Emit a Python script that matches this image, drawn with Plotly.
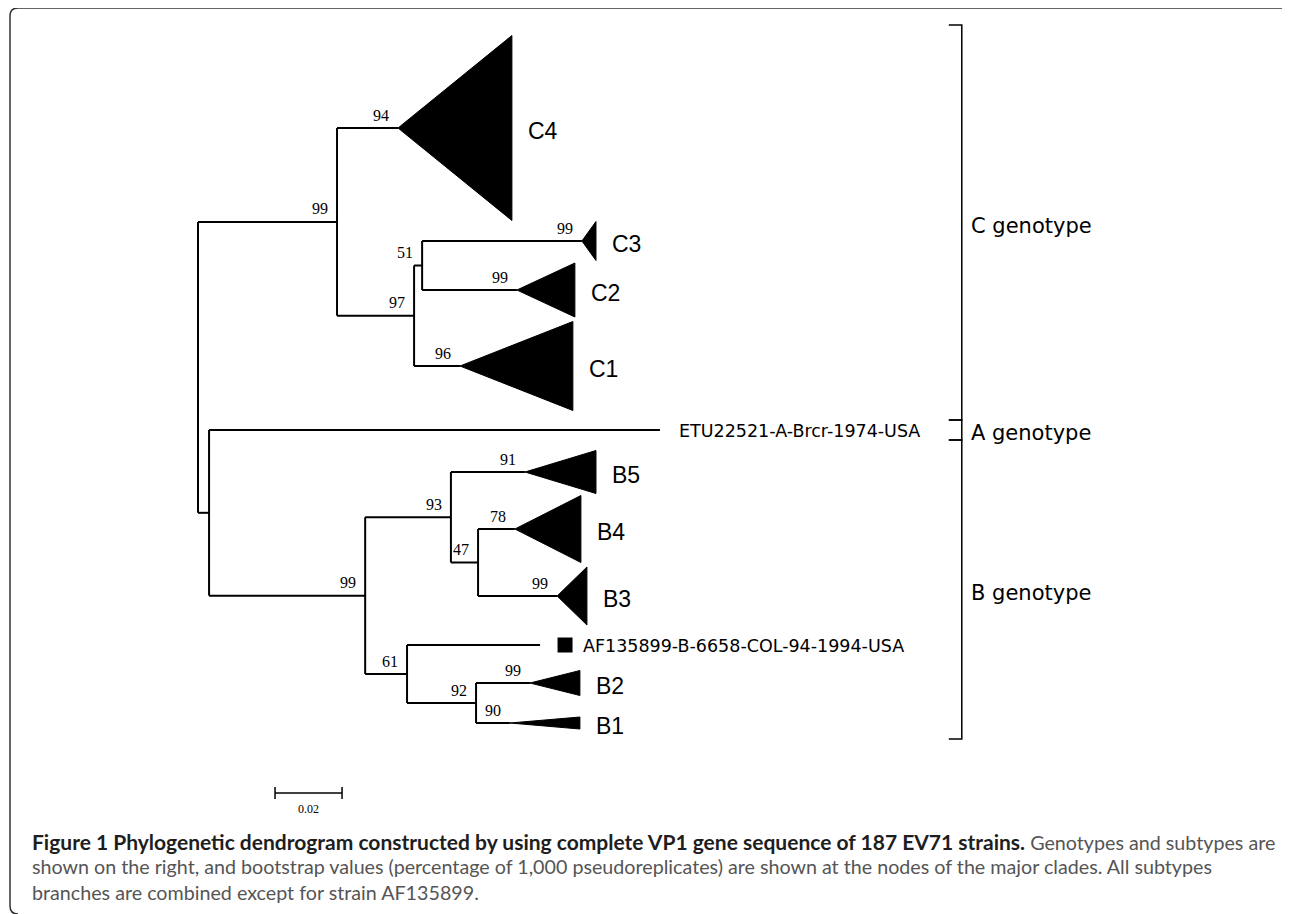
import plotly.graph_objects as go

# ---------------- DATA ----------------
# Internal nodes of the tree (distance from root in substitutions/site)
node_names = ["root", "C", "n97", "n51", "AB", "B", "n93", "n47", "n61", "n92"]
node_parent = [None, "root", "C", "n97", "root", "AB", "B", "n93", "B", "n61"]
node_dist = [0.0, 0.0415, 0.0645, 0.0669, 0.0033, 0.0499, 0.0755, 0.0836, 0.0624, 0.0830]
node_boot = [None, "99", "97", "51", None, "99", "93", "47", "61", "92"]

# Collapsed subtypes (drawn as triangles)
clade_names = ["C4", "C3", "C2", "C1", "B5", "B4", "B3", "B2", "B1"]
clade_parent = ["C", "n51", "n51", "n97", "n93", "n47", "n47", "n92", "n92"]
clade_apex = [0.0597, 0.1146, 0.0952, 0.0782, 0.0976, 0.0946, 0.1072, 0.0991, 0.0931]
clade_tip = [0.0937, 0.1188, 0.1125, 0.1119, 0.1188, 0.1143, 0.1161, 0.1140, 0.1140]
clade_y = [128, 241, 290, 366, 472, 529, 596, 683, 723]
clade_height = [185, 39, 54, 89, 43, 67, 58, 25, 12]
clade_boot = ["94", "99", "99", "96", "91", "78", "99", "99", "90"]

# Single strains
strain_names = ["ETU22521-A-Brcr-1974-USA", "AF135899-B-6658-COL-94-1994-USA"]
strain_parent = ["AB", "n61"]
strain_dist = [0.1379, 0.1021]
strain_y = [430, 645]
strain_square = [False, True]

# Genotype brackets
geno_names = ["C genotype", "A genotype", "B genotype"]
geno_top = [25, 420, 440]
geno_bottom = [420, 440, 739]
geno_x = 0.228

# Scale bar
scale_value = 0.02
scale_start = 0.023
scale_y = 793

caption_lines = [
    "<span style='font-size:21px'><b>Figure 1 Phylogenetic dendrogram constructed by using complete VP1 gene "
    "sequence of 187 EV71 strains.</b></span>"
    "<span style='color:#555555'> Genotypes and subtypes are</span>",
    "shown on the right, and bootstrap values (percentage of 1,000 pseudoreplicates) are shown at the nodes of the major clades. All subtypes",
    "branches are combined except for strain AF135899.",
]
caption_y = [841, 866, 892]

# ---------------- LAYOUT CONSTANTS ----------------
W, H = 1290, 914
OFF = 8  # page body margin of the browser
PX_PER_UNIT = 3350.0
ROOT_PX = 198
x_range = [(OFF - ROOT_PX) / PX_PER_UNIT, (OFF + W - ROOT_PX) / PX_PER_UNIT]
y_range = [OFF + H, OFF]

# ---------------- TREE GEOMETRY ----------------
dist = dict(zip(node_names, node_dist))
children = {n: [] for n in node_names}
for n, p in zip(node_names, node_parent):
    if p is not None:
        children[p].append(("node", n))
for i, p in enumerate(clade_parent):
    children[p].append(("clade", i))
for i, p in enumerate(strain_parent):
    children[p].append(("strain", i))

ypos = {}


def get_y(kind, key):
    if kind == "clade":
        return clade_y[key]
    if kind == "strain":
        return strain_y[key]
    if key in ypos:
        return ypos[key]
    ys = [get_y(k, c) for k, c in children[key]]
    ypos[key] = (min(ys) + max(ys)) / 2.0
    return ypos[key]


for n in node_names:
    get_y("node", n)

lx, ly = [], []
# vertical connectors
for n in node_names:
    ys = [get_y(k, c) for k, c in children[n]]
    lx += [dist[n], dist[n], None]
    ly += [min(ys), max(ys), None]
# horizontal branches
for n, p in zip(node_names, node_parent):
    if p is not None:
        lx += [dist[p], dist[n], None]
        ly += [ypos[n], ypos[n], None]
for i, p in enumerate(clade_parent):
    lx += [dist[p], clade_apex[i], None]
    ly += [clade_y[i], clade_y[i], None]
for i, p in enumerate(strain_parent):
    lx += [dist[p], strain_dist[i], None]
    ly += [strain_y[i], strain_y[i], None]

fig = go.Figure()
fig.add_trace(go.Scatter(x=lx, y=ly, mode="lines",
                         line=dict(color="black", width=2), hoverinfo="skip",
                         showlegend=False))

# triangles
tx, ty = [], []
for i in range(len(clade_names)):
    h = clade_height[i] / 2.0
    tx += [clade_apex[i], clade_tip[i], clade_tip[i], clade_apex[i], None]
    ty += [clade_y[i], clade_y[i] - h, clade_y[i] + h, clade_y[i], None]
fig.add_trace(go.Scatter(x=tx, y=ty, mode="lines", fill="toself",
                         fillcolor="black", line=dict(color="black", width=1),
                         hoverinfo="skip", showlegend=False))

# square marker for single strain
sq_gap = 25 / PX_PER_UNIT
sqx = [strain_dist[i] + sq_gap for i in range(len(strain_names)) if strain_square[i]]
sqy = [strain_y[i] for i in range(len(strain_names)) if strain_square[i]]
fig.add_trace(go.Scatter(x=sqx, y=sqy, mode="markers",
                         marker=dict(symbol="square", size=15, color="black"),
                         hoverinfo="skip", showlegend=False))

# genotype brackets
bx, by = [], []
tick = 13 / PX_PER_UNIT
for t, b in zip(geno_top, geno_bottom):
    bx += [geno_x - tick, geno_x, geno_x, geno_x - tick, None]
    by += [t, t, b, b, None]
fig.add_trace(go.Scatter(x=bx, y=by, mode="lines",
                         line=dict(color="black", width=1.5), hoverinfo="skip",
                         showlegend=False))

# scale bar
fig.add_trace(go.Scatter(
    x=[scale_start, scale_start + scale_value, None, scale_start, scale_start, None,
       scale_start + scale_value, scale_start + scale_value],
    y=[scale_y, scale_y, None, scale_y - 6, scale_y + 6, None, scale_y - 6, scale_y + 6],
    mode="lines", line=dict(color="black", width=1.5), hoverinfo="skip", showlegend=False))

ann = []
serif = dict(family="Liberation Serif", size=16, color="black")
# bootstrap values
for n, b in zip(node_names, node_boot):
    if b:
        ann.append(dict(x=dist[n], y=ypos[n], text=b, showarrow=False, xanchor="right",
                        yanchor="middle", xshift=-7, yshift=13, font=serif))
for i, b in enumerate(clade_boot):
    ann.append(dict(x=clade_apex[i], y=clade_y[i], text=b, showarrow=False, xanchor="right",
                    yanchor="middle", xshift=-7, yshift=13, font=serif))
# clade labels
for i, name in enumerate(clade_names):
    ann.append(dict(x=clade_tip[i], y=clade_y[i], text=name, showarrow=False, xanchor="left",
                    yanchor="middle", xshift=14, yshift=-3,
                    font=dict(family="Liberation Sans", size=23, color="black")))
# strain labels
for i, name in enumerate(strain_names):
    ann.append(dict(x=strain_dist[i], y=strain_y[i], text=name, showarrow=False,
                    xanchor="left", yanchor="middle",
                    xshift=41 if strain_square[i] else 17, yshift=-1,
                    font=dict(family="DejaVu Sans", size=17.5, color="black")))
# genotype labels
for name, t, b in zip(geno_names, geno_top, geno_bottom):
    ann.append(dict(x=geno_x, y=(t + b) / 2.0, text=name, showarrow=False, xanchor="left",
                    yanchor="middle", xshift=7, yshift=-3,
                    font=dict(family="DejaVu Sans", size=21, color="black")))
# scale label
ann.append(dict(x=scale_start + scale_value / 2, y=scale_y, text=f"{scale_value:.2f}",
                showarrow=False, xanchor="center", yanchor="top", yshift=-7,
                font=dict(family="Liberation Serif", size=12, color="black")))
# caption
for i, (line, cy) in enumerate(zip(caption_lines, caption_y)):
    ann.append(dict(x=(30 - OFF) / W, xref="paper", y=cy, yref="y", text=line, showarrow=False,
                    xanchor="left", yanchor="middle", align="left",
                    font=dict(family="Lato", size=19.7,
                              color="#1e1e1e" if i == 0 else "#555555")))

fx = lambda px: (px - OFF) / W
fy = lambda py: 1 - (py - OFF) / H
border = (f"M {fx(W + 20)},{fy(8)} L {fx(18)},{fy(8)} Q {fx(10)},{fy(8)} {fx(10)},{fy(16)} "
          f"L {fx(10)},{fy(906)} Q {fx(10)},{fy(914)} {fx(18)},{fy(914)}")

fig.update_layout(
    width=W, height=H,
    margin=dict(l=0, r=0, t=0, b=0),
    paper_bgcolor="white", plot_bgcolor="white",
    xaxis=dict(range=x_range, visible=False, fixedrange=True),
    yaxis=dict(range=y_range, visible=False, fixedrange=True),
    annotations=ann,
    shapes=[dict(type="path", path=border, xref="paper", yref="paper",
                 line=dict(color="#333333", width=1.5))],
    showlegend=False,
)

fig.write_html("out.html")
